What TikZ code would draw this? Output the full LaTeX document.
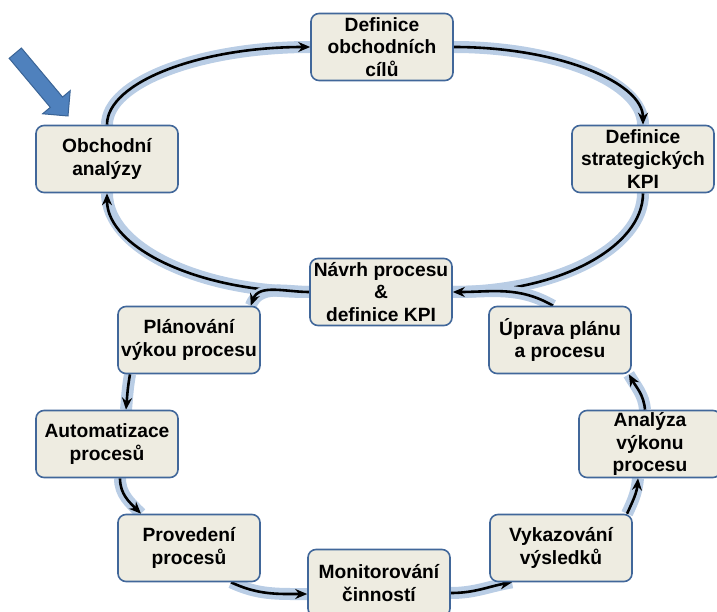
\documentclass[tikz,border=0pt]{standalone}
\usepackage{fontspec}
\setmainfont{Liberation Sans}
\usetikzlibrary{arrows.meta,backgrounds}

\definecolor{boxfill}{HTML}{EEECE1}
\definecolor{boxline}{HTML}{41679A}
\definecolor{glowblue}{HTML}{B9CDE5}
\definecolor{arrowblue}{HTML}{4F81BD}
\definecolor{arrowline}{HTML}{3A6496}

\tikzset{
  stage/.style={draw=boxline, line width=1.6pt, fill=boxfill, rounded corners=8pt,
    minimum width=142pt, minimum height=67pt, inner sep=0pt, align=center,
    font=\fontsize{19.2}{22.5}\selectfont\bfseries},
  flow/.style={-{Stealth[length=12pt,width=10pt]}, line width=2.6pt,
    preaction={draw=glowblue, line width=12pt, -}}
}

\begin{document}
\begin{tikzpicture}[x=1pt,y=1pt]
\useasboundingbox (0,0) rectangle (717,-612);

% Start arrow
\begin{scope}[shift={(68,-116)}, rotate=-50]
\draw[draw=arrowline, fill=arrowblue, line width=1pt] (0,0) -- (-18,18) -- (-18,8) -- (-82,8) -- (-82,-8) -- (-18,-8) -- (-18,-18) -- cycle;
\end{scope}

% Upper cycle
\node[stage] (anal) at (107,-159) {Obchodní\\analýzy};
\node[stage] (cile) at (382,-47) {Definice\\obchodních\\cílů};
\node[stage] (kpi) at (643,-159) {Definice\\strategických\\KPI};
\node[stage] (navrh) at (381,-292) {Návrh procesu\\\&\\definice KPI};

% Lower cycle
\node[stage] (plan) at (189,-340) {Plánování\\výkou procesu};
\node[stage] (auto) at (107,-444) {Automatizace\\procesů};
\node[stage] (prov) at (189,-548) {Provedení\\procesů};
\node[stage] (mon) at (379,-583) {Monitorování\\činností};
\node[stage] (vyk) at (561,-548) {Vykazování\\výsledků};
\node[stage] (ana) at (650,-444) {Analýza\\výkonu\\procesu};
\node[stage] (upr) at (560,-340) {Úprava plánu\\a procesu};

% Arrows
\begin{scope}[on background layer]
\draw[flow] (anal.north) to[out=90,in=180,out looseness=0.5,in looseness=1.3] (cile.west);
\draw[flow] (cile.east) to[out=0,in=90,out looseness=1.3,in looseness=0.53] (kpi.north);
\draw[flow] (kpi.south) to[out=-90,in=0,out looseness=0.65,in looseness=1.25] (navrh.east);
\draw[flow] (navrh.west) to[out=180,in=-90,out looseness=1.25,in looseness=0.62] (anal.south);
\draw[flow] (navrh.west) to[out=180,in=70] ([xshift=-10pt]plan.north east);
\draw[flow] ([xshift=-59pt]plan.south) to[out=-100,in=85] ([xshift=19pt]auto.north);
\draw[flow] ([xshift=13pt]auto.south) to[out=-90,in=135] ([xshift=-48pt]prov.north);
\draw[flow] ([xshift=42pt]prov.south) to[out=-25,in=180] ([yshift=-11pt]mon.west);
\draw[flow] ([yshift=-10pt]mon.east) to[out=0,in=190] ([xshift=-49pt]vyk.south);
\draw[flow] ([xshift=66pt]vyk.north) to[out=65,in=-95] ([xshift=-12pt]ana.south);
\draw[flow] ([xshift=-5pt]ana.north) to[out=95,in=-60] ([xshift=-3pt]upr.south east);
\draw[flow] ([xshift=-7pt]upr.north) to[out=150,in=0] (navrh.east);
\end{scope}
\end{tikzpicture}
\end{document}
